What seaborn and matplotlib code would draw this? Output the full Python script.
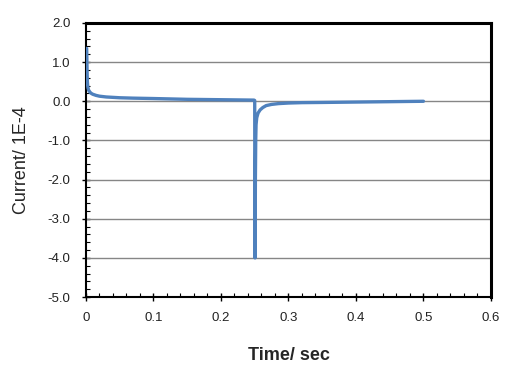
import numpy as np
import pandas as pd
import matplotlib
matplotlib.use("Agg")
import matplotlib.pyplot as plt
import seaborn as sns
from matplotlib.ticker import MultipleLocator, FuncFormatter

time_s = [0.0010, 0.0013, 0.0016, 0.0020, 0.0025, 0.0030, 0.0040, 0.0060, 0.0080,
          0.0100, 0.0150, 0.0200, 0.0300, 0.0400, 0.0500, 0.0700, 0.1000, 0.1500,
          0.2000, 0.2490, 0.2500, 0.2503, 0.2506, 0.2510, 0.2515, 0.2520, 0.2530,
          0.2550, 0.2580, 0.2620, 0.2670, 0.2750, 0.2850, 0.3000, 0.3200, 0.3500,
          0.4000, 0.4500, 0.5000]
current = [1.35, 1.10, 0.80, 0.52, 0.40, 0.34, 0.28, 0.23, 0.20,
           0.18, 0.15, 0.13, 0.11, 0.10, 0.09, 0.08, 0.07, 0.05,
           0.04, 0.03, 0.02, -4.00, -4.00, -2.00, -1.00, -0.60, -0.42,
           -0.30, -0.22, -0.16, -0.11, -0.08, -0.06, -0.045, -0.035, -0.03,
           -0.02, -0.01, 0.00]

x_ticks = [0, 0.1, 0.2, 0.3, 0.4, 0.5, 0.6]
x_tick_labels = ["0", "0.1", "0.2", "0.3", "0.4", "0.5", "0.6"]
y_ticks = [-5.0, -4.0, -3.0, -2.0, -1.0, 0.0, 1.0, 2.0]

df = pd.DataFrame({"time": time_s, "current": current})

sns.set_theme(style="white")
plt.rcParams["font.family"] = ["Liberation Sans", "DejaVu Sans"]

fig = plt.figure(figsize=(5.13, 3.75), dpi=100)
ax = fig.add_axes([0.1676, 0.208, 0.957 - 0.1676, 0.9387 - 0.208])

for yv in y_ticks:
    ax.axhline(yv, color="#868686", lw=1.0, zorder=1)

sns.lineplot(data=df, x="time", y="current", sort=False, estimator=None,
             color="#4F81BD", lw=2.4, ax=ax, zorder=3)

ax.set_xlim(0, 0.6)
ax.set_ylim(-5, 2)
ax.set_xticks(x_ticks)
ax.set_xticklabels(x_tick_labels)
ax.set_yticks(y_ticks)
ax.yaxis.set_major_formatter(FuncFormatter(lambda v, p: f"{v:.1f}"))
ax.xaxis.set_minor_locator(MultipleLocator(0.02))
ax.yaxis.set_minor_locator(MultipleLocator(0.2))

ax.tick_params(axis="both", which="major", direction="inout", length=6, width=1,
               colors="black", labelsize=9.5, labelcolor="#222222", left=True, bottom=True)
ax.tick_params(axis="both", which="minor", direction="in", length=3, width=0.8,
               colors="black", left=True, bottom=True)
ax.tick_params(axis="x", pad=8)
ax.tick_params(axis="y", pad=8)

for side in ["left", "bottom"]:
    ax.spines[side].set_color("black")
    ax.spines[side].set_linewidth(1.5)
for side in ["top", "right"]:
    ax.spines[side].set_visible(True)
    ax.spines[side].set_color("black")
    ax.spines[side].set_linewidth(2.2)

ax.set_xlabel("Time/ sec", fontsize=13, fontweight="bold", labelpad=16)
ax.set_ylabel("Current/ 1E-4", fontsize=13, labelpad=13)

fig.savefig("out.png", dpi=100)
